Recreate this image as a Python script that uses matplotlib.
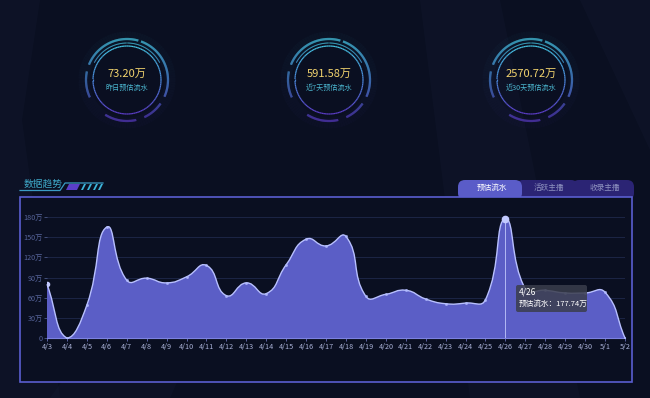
import numpy as np
import matplotlib.pyplot as plt
from matplotlib.path import Path
from matplotlib.patches import PathPatch, Polygon, Rectangle, FancyBboxPatch
from matplotlib.collections import LineCollection
from matplotlib.colors import LinearSegmentedColormap

plt.rcParams['font.family'] = ['Noto Sans CJK SC', 'DejaVu Sans']

# data
dates = ["4/3", "4/4", "4/5", "4/6", "4/7", "4/8", "4/9", "4/10", "4/11", "4/12",
         "4/13", "4/14", "4/15", "4/16", "4/17", "4/18", "4/19", "4/20", "4/21", "4/22",
         "4/23", "4/24", "4/25", "4/26", "4/27", "4/28", "4/29", "4/30", "5/1", "5/2"]
flow = [80, 0, 49, 165, 86, 89, 82, 91, 108, 63,
        82, 66, 109, 147, 137, 151, 62, 65, 71, 58,
        51, 52, 57, 177.74, 73, 71, 67, 67, 68, 0]
yticks = [0, 30, 60, 90, 120, 150, 180]
ytick_labels = ["0", "30万", "60万", "90万", "120万", "150万", "180万"]

card_values = ["73.20万", "591.58万", "2570.72万"]
card_labels = ["昨日预估流水", "近7天预估流水", "近30天预估流水"]
tabs = ["预估流水", "活跃主播", "收录主播"]
hover_idx = 23

W, H = 650, 398
bg = "#0a0f21"
fig = plt.figure(figsize=(W / 100, H / 100), dpi=100, facecolor=bg)

# background overlay in pixel coords
bga = fig.add_axes([0, 0, 1, 1])
bga.set_xlim(0, W)
bga.set_ylim(H, 0)
bga.axis("off")
bga.set_facecolor(bg)
for pts in ([[0, 0], [40, 0], [22, 120], [60, 398], [0, 398]],
            [[50, 398], [120, 300], [200, 330], [170, 398]],
            [[420, 0], [500, 0], [580, 398], [470, 398]],
            [[580, 0], [650, 0], [650, 150]]):
    bga.add_patch(Polygon(pts, closed=True, facecolor="#1c2540", alpha=0.18, lw=0))

# ring cards
ring_cmap = LinearSegmentedColormap.from_list("ring", ["#45c3e0", "#4a86d8", "#5b3cc6"])


def arc(ax, cx, cy, r, a0, a1, lw, alpha=1.0):
    t = np.radians(np.linspace(a0, a1, 120))
    xs = cx + r * np.cos(t)
    ys = cy - r * np.sin(t)
    pts = np.column_stack([xs, ys]).reshape(-1, 1, 2)
    segs = np.concatenate([pts[:-1], pts[1:]], axis=1)
    frac = ((ys[:-1] + ys[1:]) / 2 - (cy - r)) / (2 * r)
    lc = LineCollection(segs, colors=ring_cmap(frac), linewidths=lw, alpha=alpha,
                        capstyle="butt")
    ax.add_collection(lc)


centers = [127, 329, 531]
cy = 80
for cx, val, lab in zip(centers, card_values, card_labels):
    arc(bga, cx, cy, 43, 0, 360, 8, alpha=0.03)
    for a0, a1 in [(74, 158), (168, 205), (238, 283), (295, 325), (336, 430)]:
        arc(bga, cx, cy, 41, a0, a1, 1.6)
    arc(bga, cx, cy, 34, 0, 360, 0.9)
    arc(bga, cx, cy, 37, 28, 152, 0.7)
    bga.text(cx, cy - 6, val, color="#f3d46e", fontsize=8, ha="center", va="center")
    bga.text(cx, cy + 8, lab, color="#4bb6cf", fontsize=5.1, ha="center", va="center")

# title with decoration
bga.text(24, 184, "数据趋势", color="#3fa9c9", fontsize=7, ha="left", va="center")
bga.plot([20, 60, 65, 103], [190.5, 190.5, 183, 183], color="#3a9cc4", lw=0.9)
bga.add_patch(Polygon([[66, 190], [69, 184], [80, 184], [77, 190]], closed=True,
                      facecolor="#5a3fc8", lw=0))
for x0 in [81, 87, 93, 98]:
    bga.add_patch(Polygon([[x0, 190], [x0 + 3, 184], [x0 + 5, 184], [x0 + 2, 190]],
                          closed=True, facecolor="#3cb5db", lw=0))

# tabs
tab_x = [(458, 522), (516, 578), (572, 634)]
tab_col = ["#5a5cc8", "#2b2474", "#2b2474"]
for i in [2, 1, 0]:
    x0, x1 = tab_x[i]
    bga.add_patch(FancyBboxPatch((x0, 180), x1 - x0, 20,
                                 boxstyle="round,pad=0,rounding_size=7",
                                 facecolor=tab_col[i], lw=0))
    bga.text((x0 + x1) / 2 + 2, 188, tabs[i], fontsize=5.5,
             color="#ffffff" if i == 0 else "#8f93c0", ha="center", va="center")

# panel box
bga.add_patch(Rectangle((20, 197), 612, 185, facecolor=bg, edgecolor="#5a5ed0", lw=1.2))

# chart axes
ax = fig.add_axes([47 / W, 1 - 338 / H, (625 - 47) / W, (338 - 217) / H])
ax.set_facecolor("none")
n = len(flow)
x = np.arange(n)
y = np.array(flow, dtype=float)
ax.set_xlim(0, n - 1)
ax.set_ylim(0, 180)

# smooth bezier path (echarts-like smoothing)
sx, sy = 578 / (n - 1), 121 / 180
smooth = 0.5
verts = [(x[0], y[0])]
codes = [Path.MOVETO]


def ctrl(pp, pc, pn, forward):
    v = pn - pp
    d0 = np.hypot((pc[0] - pp[0]) * sx, (pc[1] - pp[1]) * sy)
    d1 = np.hypot((pn[0] - pc[0]) * sx, (pn[1] - pc[1]) * sy)
    ratio = d0 / (d0 + d1) if d0 + d1 > 0 else 0.5
    c = pc + v * smooth * (1 - ratio) if forward else pc - v * smooth * ratio
    c[1] = np.clip(c[1], 0, y.max())
    return c


for i in range(n - 1):
    p0 = np.array([x[max(i - 1, 0)], y[max(i - 1, 0)]])
    p1 = np.array([x[i], y[i]])
    p2 = np.array([x[i + 1], y[i + 1]])
    p3 = np.array([x[min(i + 2, n - 1)], y[min(i + 2, n - 1)]])
    c1 = ctrl(p0, p1, p2, True)
    c2 = ctrl(p1, p2, p3, False)
    verts += [tuple(c1), tuple(c2), (x[i + 1], y[i + 1])]
    codes += [Path.CURVE4] * 3

line_path = Path(verts, codes)
fill_path = Path(verts + [(x[-1], 0), (x[0], 0), (x[0], y[0])],
                 codes + [Path.LINETO, Path.LINETO, Path.CLOSEPOLY])
ax.add_patch(PathPatch(fill_path, facecolor="#5b5ec6", lw=0, zorder=2))
ax.add_patch(PathPatch(line_path, facecolor="none", edgecolor="#b8c0ff", lw=1.0, zorder=3,
                       clip_on=False))
ax.plot(x, y, "o", ms=1.2, color="#b3bcff", alpha=0.7, zorder=4)
ax.plot(x[0], y[0], "o", ms=3, color="#c2c9ff", zorder=4)
ax.plot(x[hover_idx], y[hover_idx], "o", ms=4.5, color="#c2c9ff", zorder=5, clip_on=False)
ax.axvline(x[hover_idx], color="#c9d0ff", lw=0.7, alpha=0.8, zorder=4)

ax.set_yticks(yticks)
ax.set_yticklabels(ytick_labels)
ax.set_xticks(x)
ax.set_xticklabels(dates)
ax.grid(axis="y", color="#1c2546", lw=0.7)
ax.set_axisbelow(True)
for s in ["top", "right", "left"]:
    ax.spines[s].set_visible(False)
ax.spines["bottom"].set_color("#7c82e0")
ax.spines["bottom"].set_linewidth(0.8)
ax.tick_params(axis="y", colors="#4c5a8a", labelcolor="#56649a", labelsize=5.2,
               length=2, width=0.6, pad=1)
ax.tick_params(axis="x", colors="#6b72b8", labelcolor="#aab2d8", labelsize=5.2,
               length=2, width=0.6, pad=1.5)

# tooltip overlay
fg = fig.add_axes([0, 0, 1, 1], facecolor="none")
fg.set_xlim(0, W)
fg.set_ylim(H, 0)
fg.axis("off")
fg.add_patch(FancyBboxPatch((516, 285), 71, 27, boxstyle="round,pad=0,rounding_size=2",
                            facecolor="#3a3d4c", edgecolor="none", alpha=0.85))
fg.text(519, 292, dates[hover_idx], color="white", fontsize=6, va="center")
fg.text(519, 304, f"预估流水：{flow[hover_idx]:.2f}万", color="white", fontsize=5.5,
        va="center")

plt.savefig("out.png", dpi=100, facecolor=bg)
plt.close(fig)
